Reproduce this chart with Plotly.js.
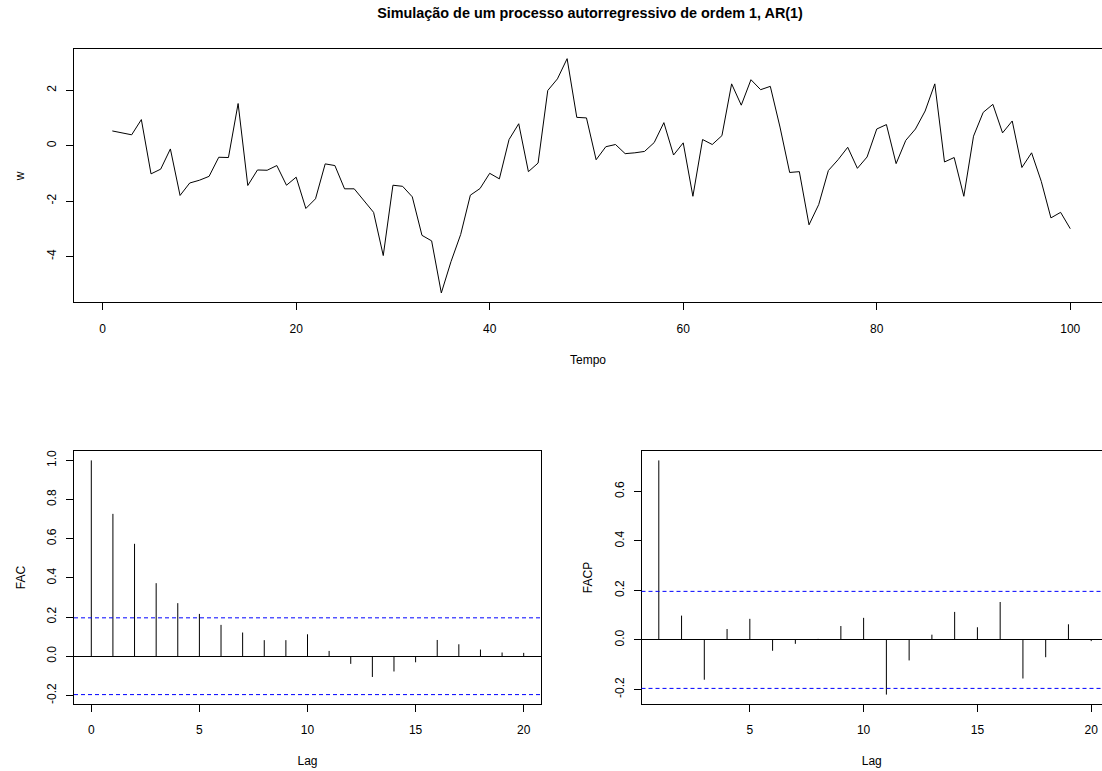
<!DOCTYPE html>
<html>
<head>
<meta charset="utf-8">
<script src="https://cdn.plot.ly/plotly-3.0.1.min.js"></script>
<style>
  html, body { margin: 0; padding: 0; background: #fff; overflow: hidden; }
  #chart { width: 1102px; height: 771px; }
</style>
</head>
<body>
<div id="chart"></div>
<script>
// ---- Data ----
const w = [
  0.53, 0.46, 0.39, 0.94, -1.02, -0.85, -0.12, -1.80, -1.35, -1.25,
  -1.11, -0.42, -0.43, 1.52, -1.44, -0.88, -0.89, -0.72, -1.43, -1.14,
  -2.27, -1.92, -0.66, -0.72, -1.56, -1.56, -1.97, -2.41, -3.97, -1.43,
  -1.47, -1.85, -3.24, -3.44, -5.32, -4.19, -3.21, -1.79, -1.55, -1.00,
  -1.20, 0.22, 0.79, -0.94, -0.63, 1.99, 2.41, 3.14, 1.02, 1.00,
  -0.51, -0.04, 0.04, -0.29, -0.26, -0.21, 0.11, 0.83, -0.34, 0.10,
  -1.83, 0.22, 0.04, 0.36, 2.23, 1.46, 2.38, 2.02, 2.14, 0.67,
  -0.97, -0.94, -2.86, -2.13, -0.90, -0.51, -0.06, -0.82, -0.41, 0.60,
  0.76, -0.65, 0.19, 0.60, 1.25, 2.23, -0.59, -0.43, -1.83, 0.34,
  1.20, 1.49, 0.46, 0.89, -0.79, -0.26, -1.29, -2.61, -2.41, -3.00
];
const tempo = w.map((_, i) => i + 1);

const acfLags = [0,1,2,3,4,5,6,7,8,9,10,11,12,13,14,15,16,17,18,19,20];
const acfVals = [1.000, 0.727, 0.574, 0.373, 0.271, 0.216, 0.160, 0.121, 0.082, 0.082,
                 0.112, 0.027, -0.039, -0.106, -0.078, -0.031, 0.083, 0.061, 0.034, 0.019, 0.017];

const pacfLags = [1,2,3,4,5,6,7,8,9,10,11,12,13,14,15,16,17,18,19,20];
const pacfVals = [0.725, 0.098, -0.161, 0.044, 0.085, -0.044, -0.016, 0.004, 0.056, 0.089,
                  -0.221, -0.083, 0.021, 0.113, 0.051, 0.153, -0.156, -0.070, 0.063, -0.005];

const nObs = 100;
const ciLevel = 1.96 / Math.sqrt(nObs);

const xTicksTop = [0, 20, 40, 60, 80, 100];
const yTicksTop = [-4, -2, 0, 2];
const yTickTextTop = ['-4', '-2', '0', '2'];
const xTicksAcf = [0, 5, 10, 15, 20];
const yTicksAcf = [-0.2, 0.0, 0.2, 0.4, 0.6, 0.8, 1.0];
const yTickTextAcf = ['-0.2', '0.0', '0.2', '0.4', '0.6', '0.8', '1.0'];
const xTicksPacf = [5, 10, 15, 20];
const yTicksPacf = [-0.2, 0.0, 0.2, 0.4, 0.6];
const yTickTextPacf = ['-0.2', '0.0', '0.2', '0.4', '0.6'];

// ---- helpers ----
function stems(lags, vals) {
  const x = [], y = [];
  lags.forEach((l, i) => { x.push(l, l, null); y.push(0, vals[i], null); });
  return { x, y };
}
const W = 1102, H = 771;
const px = v => v / W;
const py = v => (H - v) / H;

const FONT = 'Liberation Sans, Arial, Helvetica, sans-serif';
const tickFont = { family: FONT, size: 12, color: '#000' };
const titleFont = { family: FONT, size: 12, color: '#000' };

function axisBase(extra) {
  return Object.assign({
    showgrid: false, zeroline: false, showline: true, linecolor: '#000', linewidth: 1,
    ticks: 'outside', ticklen: 7, tickwidth: 1, tickcolor: '#000',
    tickfont: tickFont, fixedrange: true, layer: 'above traces'
  }, extra);
}
function xAxis(extra) {
  return axisBase(Object.assign({ ticklabelstandoff: 8 }, extra));
}
function yAxis(extra) {
  return axisBase(Object.assign({ ticklabelstandoff: 5, tickangle: -90 }, extra));
}

const acfS = stems(acfLags, acfVals);
const pacfS = stems(pacfLags, pacfVals);

const traces = [
  { x: tempo, y: w, type: 'scatter', mode: 'lines', line: { color: '#000', width: 1 },
    xaxis: 'x', yaxis: 'y', hoverinfo: 'skip' },
  { x: acfS.x, y: acfS.y, type: 'scatter', mode: 'lines', line: { color: '#000', width: 1 },
    xaxis: 'x2', yaxis: 'y2', hoverinfo: 'skip' },
  { x: pacfS.x, y: pacfS.y, type: 'scatter', mode: 'lines', line: { color: '#000', width: 1 },
    xaxis: 'x3', yaxis: 'y3', hoverinfo: 'skip' }
];

// geometry (pixels)
const gTop = { l: 74, r: 1108.6, t: 49.3, b: 302.3 };
const xr1 = [-2.96, 103.96];
const topPxPerUnit = (gTop.r - gTop.l) / (xr1[1] - xr1[0]);
const topXmaxVisible = xr1[0] + (W - gTop.l) / topPxPerUnit;

const gBot = { t: 451, b: 704 };
const gFac = { l: 74, r: 541 };
const gFacp = { l: 641.5, r: 1108.5 };
const xr3 = [0.24, 20.76];
const facpPxPerUnit = (gFacp.r - gFacp.l) / (xr3[1] - xr3[0]);
const facpXmaxVisible = xr3[0] + (W - gFacp.l) / facpPxPerUnit;

const XT_STANDOFF = 20, YT_STANDOFF = 17;

const layout = {
  width: W, height: H,
  margin: { l: 0, r: 0, t: 0, b: 0, pad: 0 },
  paper_bgcolor: '#fff', plot_bgcolor: '#fff',
  showlegend: false,
  font: { family: FONT, size: 12, color: '#000' },
  title: {
    text: '<b>Simulação de um processo autorregressivo de ordem 1, AR(1)</b>',
    font: { family: FONT, size: 14.4, color: '#000' },
    x: px(590), xanchor: 'center', xref: 'paper',
    y: py(13), yanchor: 'middle', yref: 'paper'
  },
  xaxis: xAxis({
    domain: [px(gTop.l), 1], range: [xr1[0], topXmaxVisible], mirror: true,
    tickvals: xTicksTop, ticktext: xTicksTop.map(String),
    title: { text: 'Tempo', font: titleFont, standoff: XT_STANDOFF }, anchor: 'y'
  }),
  yaxis: yAxis({
    domain: [py(gTop.b), py(gTop.t)], range: [-5.658, 3.478], mirror: false,
    tickvals: yTicksTop, ticktext: yTickTextTop,
    title: { text: 'w', font: titleFont, standoff: YT_STANDOFF }, anchor: 'x'
  }),
  xaxis2: xAxis({
    domain: [px(gFac.l), px(gFac.r)], range: [-0.8, 20.8], mirror: true,
    tickvals: xTicksAcf, ticktext: xTicksAcf.map(String),
    title: { text: 'Lag', font: titleFont, standoff: XT_STANDOFF }, anchor: 'y2'
  }),
  yaxis2: yAxis({
    domain: [py(gBot.b), py(gBot.t)], range: [-0.244, 1.048], mirror: true,
    tickvals: yTicksAcf, ticktext: yTickTextAcf,
    zeroline: true, zerolinecolor: '#000', zerolinewidth: 1,
    title: { text: 'FAC', font: titleFont, standoff: YT_STANDOFF }, anchor: 'x2'
  }),
  xaxis3: xAxis({
    domain: [px(gFacp.l), 1], range: [xr3[0], facpXmaxVisible], mirror: true,
    tickvals: xTicksPacf, ticktext: xTicksPacf.map(String),
    title: { text: 'Lag', font: titleFont, standoff: XT_STANDOFF }, anchor: 'y3'
  }),
  yaxis3: yAxis({
    domain: [py(gBot.b), py(gBot.t)], range: [-0.259, 0.763], mirror: false,
    tickvals: yTicksPacf, ticktext: yTickTextPacf,
    zeroline: true, zerolinecolor: '#000', zerolinewidth: 1,
    title: { text: 'FACP', font: titleFont, standoff: YT_STANDOFF }, anchor: 'x3'
  }),
  shapes: [
    { type: 'line', xref: 'x2 domain', yref: 'y2', x0: 0, x1: 1, y0: ciLevel, y1: ciLevel,
      line: { color: '#0000ff', width: 1, dash: '4px,3px' } },
    { type: 'line', xref: 'x2 domain', yref: 'y2', x0: 0, x1: 1, y0: -ciLevel, y1: -ciLevel,
      line: { color: '#0000ff', width: 1, dash: '4px,3px' } },
    { type: 'line', xref: 'x3 domain', yref: 'y3', x0: 0, x1: 1, y0: ciLevel, y1: ciLevel,
      line: { color: '#0000ff', width: 1, dash: '4px,3px' } },
    { type: 'line', xref: 'x3 domain', yref: 'y3', x0: 0, x1: 1, y0: -ciLevel, y1: -ciLevel,
      line: { color: '#0000ff', width: 1, dash: '4px,3px' } }
  ]
};

Plotly.newPlot('chart', traces, layout, { displayModeBar: false, staticPlot: true });
</script>
</body>
</html>
